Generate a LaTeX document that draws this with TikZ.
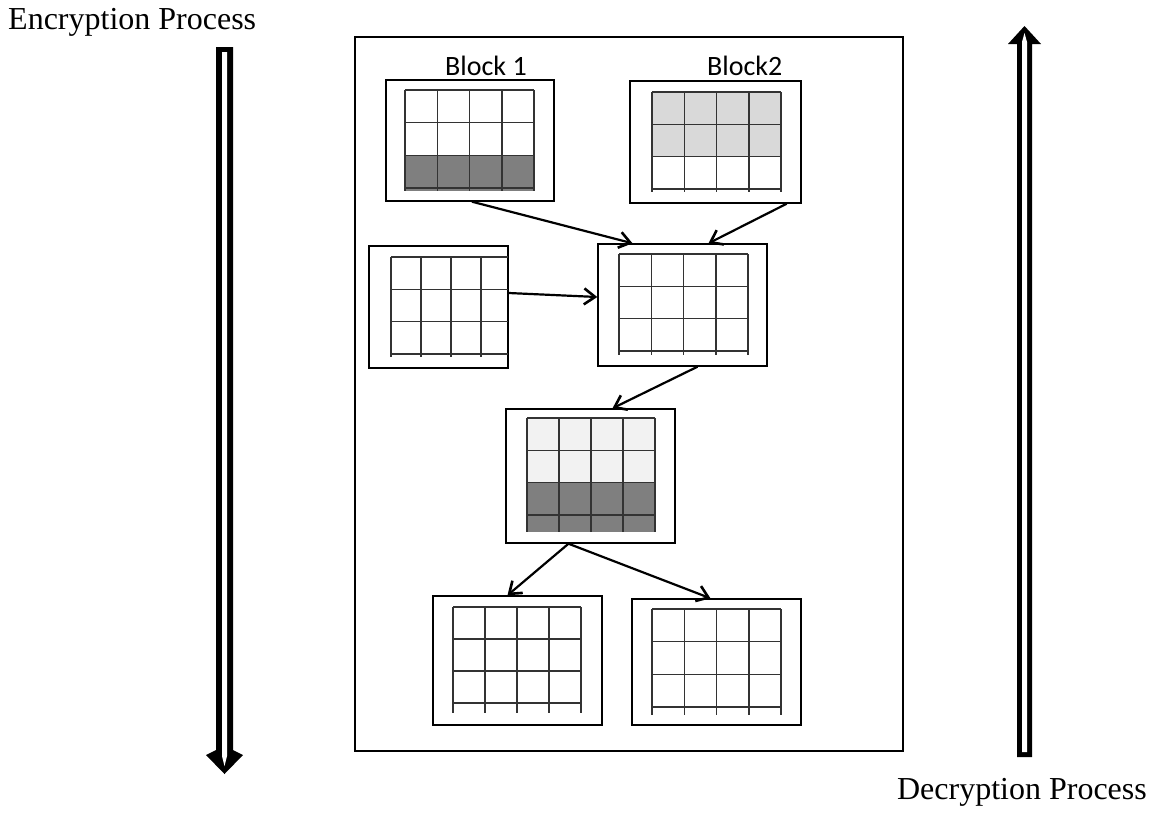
\documentclass[tikz,border=0pt]{standalone}
\usepackage{fontspec}
\setmainfont{Liberation Serif}
\newfontfamily\calibfont{Carlito}
\usetikzlibrary{arrows.meta,calc}
\definecolor{darkfill}{HTML}{7F7F7F}
\definecolor{lightfill}{HTML}{D9D9D9}
\definecolor{paleFill}{HTML}{F2F2F2}
\tikzset{
  frame/.style={draw=black, line width=1.4pt, inner sep=0pt, fill=white},
  gridline/.style={draw=black!80, line width=1.5pt},
  conn/.style={line width=2.2pt, -{Straight Barb[length=11pt,width=16pt,line width=2.6pt]}},
  bigarrow/.style={fill=black, draw=none},
  hollow/.style={fill=white, draw=none},
}
% \tabgrid{x0}{dx}{y0}{dy}{ybottom}
\newcommand\tabgrid[5]{%
  \foreach \j in {0,1,2,3} {\draw[gridline] (#1,{#3+\j*#4}) -- ({#1+4*#2},{#3+\j*#4});}
  \foreach \i in {0,1,2,3,4} {\draw[gridline] ({#1+\i*#2},#3) -- ({#1+\i*#2},#5);}
}
\begin{document}
\begin{tikzpicture}[x=1pt,y=-1pt]
\useasboundingbox (0,0) rectangle (1149,812);

% titles
\node[anchor=base west, inner sep=0pt, font=\fontsize{32}{36}\selectfont] (enc) at (8,29) {Encryption Process};
\node[anchor=base east, inner sep=0pt, font=\fontsize{32}{36}\selectfont] (dec) at (1147,799) {Decryption Process};

% left big arrow (down)
\fill[bigarrow] (216,47) -- (233,47) -- (233,750) -- (243,755) -- (224.5,774) -- (206,755) -- (216,750) -- cycle;
\fill[hollow] (222,52) -- (227,52) -- (227,756) -- (224.5,766) -- (222,756) -- cycle;

% right big arrow (up)
\fill[bigarrow] (1017,757) -- (1032,757) -- (1032,44) -- (1041,44) -- (1024.5,26) -- (1008,44) -- (1017,44) -- cycle;
\fill[hollow] (1022,752) -- (1027,752) -- (1027,42) -- (1024.5,33) -- (1022,42) -- cycle;

% container
\node[frame, minimum width=548pt, minimum height=714pt] (cont) at (629,394) {};

% labels
\node[anchor=base west, inner sep=0pt, font=\calibfont\fontsize{28}{32}\selectfont] (lb1) at (445,75) {Block 1};
\node[anchor=base west, inner sep=0pt, font=\calibfont\fontsize{28}{32}\selectfont] (lb2) at (707,75) {Block2};

% frames
\node[frame, minimum width=168pt, minimum height=121pt] (b1) at (470,140.5) {};
\node[frame, minimum width=171pt, minimum height=122pt] (b2) at (715.5,142) {};
\node[frame, minimum width=139pt, minimum height=122pt] (key) at (438.5,307) {};
\node[frame, minimum width=169pt, minimum height=122pt] (mid) at (682.5,305) {};
\node[frame, minimum width=169pt, minimum height=134pt] (res) at (590.5,476) {};
\node[frame, minimum width=169pt, minimum height=129pt] (bl) at (517.5,660.5) {};
\node[frame, minimum width=169pt, minimum height=126pt] (br) at (716.5,662) {};

% fills
\fill[darkfill] (405,155.4) rectangle (534,191);
\fill[lightfill] (652,92) rectangle (781,156.6);
\fill[paleFill] (527,418) rectangle (655,482.6);
\fill[darkfill] (527,482.6) rectangle (655,532);

% grids
\tabgrid{405}{32.25}{90}{32.7}{191}
\tabgrid{652}{32.25}{92}{32.3}{192}
\tabgrid{619}{32.25}{254}{32.3}{355}
\tabgrid{527}{32}{418}{32.3}{532}
\tabgrid{453}{32}{607}{32}{713}
\tabgrid{652}{32.25}{609}{32.7}{715}
% key grid (open on the right)
\foreach \j in {0,1,2,3} {\draw[gridline] (391,{257+\j*32.3}) -- (508,{257+\j*32.3});}
\foreach \i in {0,1,2,3} {\draw[gridline] ({391+\i*30},257) -- ({391+\i*30},357);}

% connectors
\draw[conn] ([xshift=2pt]b1.south) -- ([xshift=-50pt]mid.north);
\draw[conn] ([xshift=-15pt]b2.south east) -- ([xshift=26pt]mid.north);
\draw[conn] ([yshift=14pt]key.east) -- ([yshift=8pt]mid.west);
\draw[conn] ([xshift=15pt]mid.south) -- ([xshift=22pt]res.north);
\coordinate (rs) at ([xshift=-22pt]res.south);
\draw[conn] (rs) -- ([xshift=-10pt]bl.north);
\draw[conn] (rs) -- ([xshift=-6pt]br.north);
\end{tikzpicture}
\end{document}
